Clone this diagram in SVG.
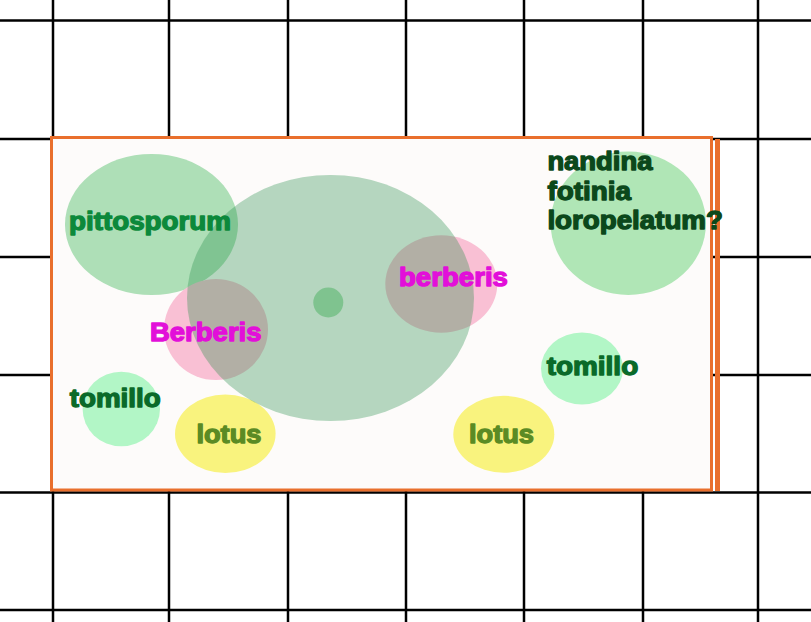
<svg xmlns="http://www.w3.org/2000/svg" width="811" height="622" viewBox="0 0 811 622">
<style>
.grid line{stroke:#000;stroke-width:2.5}
.lbl{font-family:"Liberation Sans",Arial,sans-serif;font-weight:bold;font-size:25px;stroke-width:1.3;stroke-linejoin:round}
.pit{fill:#0c893b;stroke:#0c893b}
.mag{fill:#e20fd9;stroke:#e20fd9}
.tom{fill:#0a6a29;stroke:#0a6a29}
.lot{fill:#5b8b24;stroke:#5b8b24}
.dark{fill:#0b481b;stroke:#0b481b}
</style>
<rect x="0" y="0" width="811" height="622" fill="#ffffff"/>
<g class="grid" id="grid">
<line x1="53" y1="0" x2="53" y2="622"/>
<line x1="169" y1="0" x2="169" y2="622"/>
<line x1="288" y1="0" x2="288" y2="622"/>
<line x1="406" y1="0" x2="406" y2="622"/>
<line x1="524" y1="0" x2="524" y2="622"/>
<line x1="643" y1="0" x2="643" y2="622"/>
<line x1="758" y1="0" x2="758" y2="622"/>
<line x1="0" y1="20.5" x2="811" y2="20.5"/>
<line x1="0" y1="139" x2="811" y2="139"/>
<line x1="0" y1="257" x2="811" y2="257"/>
<line x1="0" y1="375" x2="811" y2="375"/>
<line x1="0" y1="492.5" x2="811" y2="492.5"/>
<line x1="0" y1="610" x2="811" y2="610"/>
</g>
<g id="bed">
<rect x="51.5" y="137.5" width="660" height="352.5" fill="#fdfbfa" stroke="#e96f2c" stroke-width="3"/>
<rect x="715" y="139" width="5" height="352" fill="#e96f2c"/>
</g>
<g id="pittosporum">
<ellipse cx="151.5" cy="224.5" rx="86.5" ry="70.5" fill="#aedfb7"/>
</g>
<g id="Berberis">
<ellipse cx="216" cy="329.5" rx="52" ry="50.5" fill="#f9c0d4"/>
</g>
<g id="berberis">
<ellipse cx="441.3" cy="284" rx="56" ry="48.7" fill="#f9c0d4"/>
</g>
<g id="tomillo-left">
<ellipse cx="121.3" cy="409" rx="38.7" ry="37.3" fill="#b2f6c6"/>
</g>
<g id="lotus-left">
<ellipse cx="225.3" cy="433.7" rx="50.3" ry="39.3" fill="#f9f37e"/>
</g>
<g id="nandina">
<ellipse cx="628.3" cy="223.3" rx="77.7" ry="71.7" fill="#b0e6b6"/>
</g>
<g id="tomillo-right">
<ellipse cx="582" cy="368.5" rx="41" ry="36" fill="#b2f6c6"/>
</g>
<g id="lotus-right">
<ellipse cx="503.8" cy="434.3" rx="50.5" ry="38.5" fill="#f9f37e"/>
</g>
<g id="tree">
<ellipse cx="330.5" cy="298" rx="143.5" ry="123" fill="#2a914c" fill-opacity="0.34"/>
<circle cx="328.3" cy="302.5" r="15" fill="#7fc38f"/>
</g>
<g id="labels">
<text class="lbl pit" x="69" y="230" textLength="162" lengthAdjust="spacingAndGlyphs">pittosporum</text>
<text class="lbl mag" x="150" y="341" textLength="111.5" lengthAdjust="spacingAndGlyphs">Berberis</text>
<text class="lbl mag" x="399" y="286" textLength="109" lengthAdjust="spacingAndGlyphs">berberis</text>
<text class="lbl tom" x="69.7" y="407.3" textLength="91" lengthAdjust="spacingAndGlyphs">tomillo</text>
<text class="lbl lot" x="196.4" y="443.3" textLength="65" lengthAdjust="spacingAndGlyphs">lotus</text>
<text class="lbl tom" x="546.7" y="375" textLength="91.5" lengthAdjust="spacingAndGlyphs">tomillo</text>
<text class="lbl lot" x="469" y="443.3" textLength="65" lengthAdjust="spacingAndGlyphs">lotus</text>
<text class="lbl dark" x="547.4" y="170" textLength="105" lengthAdjust="spacingAndGlyphs">nandina</text>
<text class="lbl dark" x="547.4" y="199.5" textLength="83.5" lengthAdjust="spacingAndGlyphs">fotinia</text>
<text class="lbl dark" x="547.4" y="229.3" textLength="175.5" lengthAdjust="spacingAndGlyphs">loropelatum?</text>
</g>
</svg>
